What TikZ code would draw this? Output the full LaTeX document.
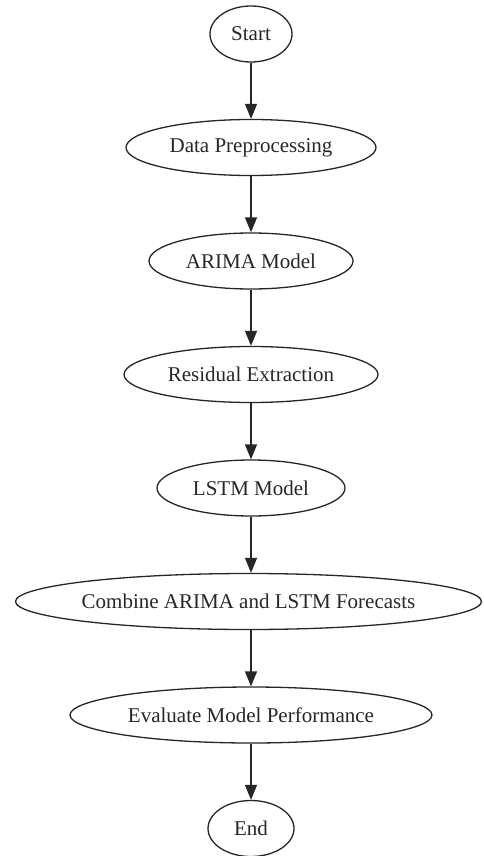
\documentclass[tikz,border=0pt]{standalone}
\usepackage{fontspec}
\setmainfont{Liberation Serif}
\usetikzlibrary{shapes.geometric,arrows.meta}
\tikzset{
  stepnode/.style={draw=black!85, line width=1.3pt, ellipse, inner sep=0pt, minimum height=56pt,
    font=\fontsize{21}{24}\selectfont, text=black!85},
  flow/.style={draw=black!85, line width=1.3pt, -{Triangle[length=15pt,width=12pt]}}
}
\newcommand{\lbl}[1]{\makebox[0pt]{#1}}
\begin{document}
\begin{tikzpicture}[x=1pt,y=1pt]
\useasboundingbox (0,0) rectangle (483,-856);
\node[stepnode, minimum width=82pt]  (start) at (251,-34)    {\lbl{Start}};
\node[stepnode, minimum width=250pt] (prep)  at (251,-147.5) {\lbl{Data Preprocessing}};
\node[stepnode, minimum width=204pt] (arima) at (251,-261)   {\lbl{ARIMA Model}};
\node[stepnode, minimum width=254pt] (resid) at (251,-374.5) {\lbl{Residual Extraction}};
\node[stepnode, minimum width=188pt] (lstm)  at (251,-488)   {\lbl{LSTM Model}};
\node[stepnode, minimum width=466pt] (comb)  at (248.5,-601.5) {\lbl{Combine ARIMA and LSTM Forecasts}};
\node[stepnode, minimum width=362pt] (eval)  at (251,-715)   {\lbl{Evaluate Model Performance}};
\node[stepnode, minimum width=86pt]  (end)   at (251,-828.5) {\lbl{End}};
\draw[flow] (start) -- (prep);
\draw[flow] (prep) -- (arima);
\draw[flow] (arima) -- (resid);
\draw[flow] (resid) -- (lstm);
\draw[flow] (lstm) -- (lstm |- comb.north);
\draw[flow] (eval |- comb.south) -- (eval);
\draw[flow] (eval) -- (end);
\end{tikzpicture}
\end{document}
